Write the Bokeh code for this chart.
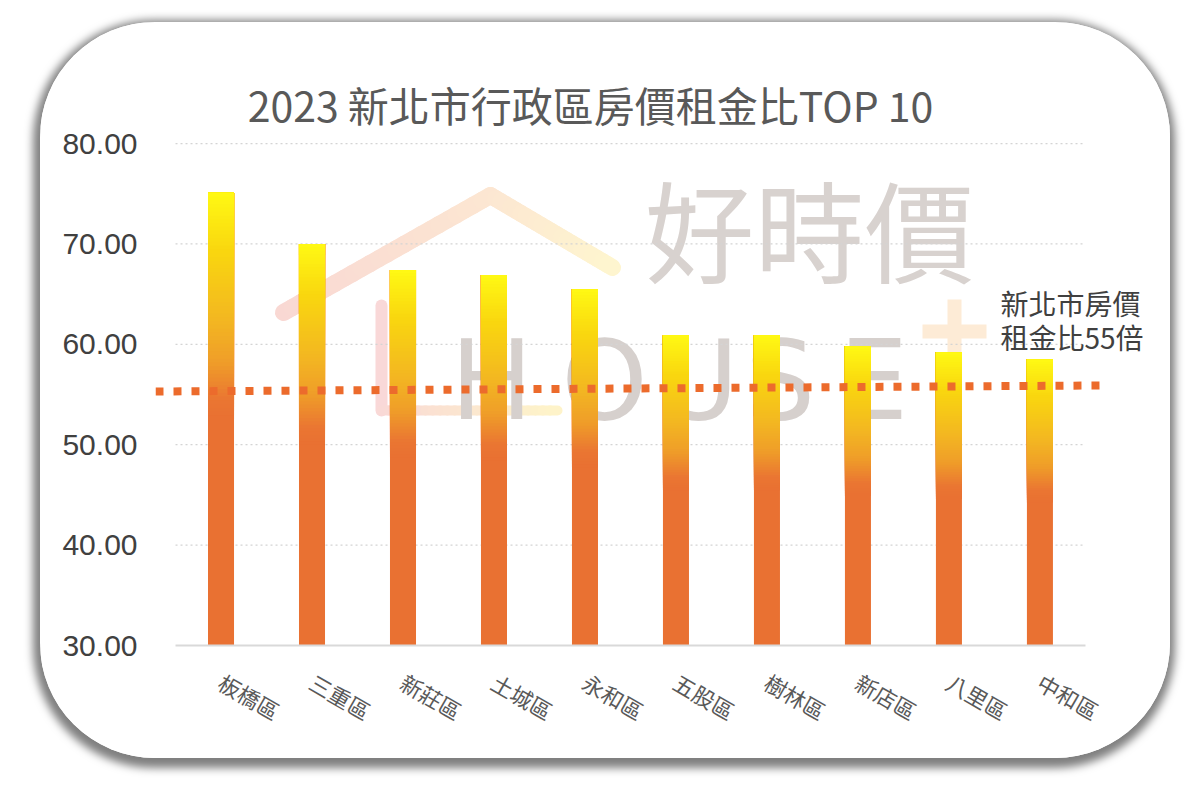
import math
from bokeh.plotting import figure
from bokeh.models import Range1d, FixedTicker, NumeralTickFormatter
from bokeh.core.properties import value
from bokeh.embed import file_html
from bokeh.resources import INLINE

# ---------------- data ----------------
districts = ["板橋區", "三重區", "新莊區", "土城區", "永和區",
             "五股區", "樹林區", "新店區", "八里區", "中和區"]
ratios = [75.1, 70.0, 67.4, 66.9, 65.5, 60.9, 60.9, 59.8, 59.2, 58.5]
y_ticks = [30, 40, 50, 60, 70, 80]
ref_line_y = [55.3, 55.9]          # the reference line (55倍) as drawn, slightly tilted
ref_label = ["新北市房價", "租金比55倍"]
title_text = "2023 新北市行政區房價租金比TOP 10"
wm_cn = "好時價"
wm_en = ["H", "O", "U", "S", "E"]

# ---------------- layout ----------------
W, H = 1130, 736
B_LEFT, B_RIGHT, B_TOP, B_BOTTOM = 115, 5, 30, 113
X0, X1 = -0.72, 10.38
Y0, Y1 = 30, 89.07
FRAME_W = W - B_LEFT - B_RIGHT
FRAME_H = H - B_TOP - B_BOTTOM
PXU = FRAME_W / (X1 - X0)
PYU = FRAME_H / (Y1 - Y0)
PAGE_X0 = 40 + B_LEFT     # page px of frame left
PAGE_Y0 = 22 + B_TOP      # page px of frame top


def dx(px):
    return X0 + (px - PAGE_X0) / PXU


def dy(py):
    return Y1 - (py - PAGE_Y0) / PYU


def lerp_hex(c1, c2, t):
    a = [int(c1[i:i + 2], 16) for i in (1, 3, 5)]
    b = [int(c2[i:i + 2], 16) for i in (1, 3, 5)]
    return "#%02x%02x%02x" % tuple(round(a[k] + (b[k] - a[k]) * t) for k in range(3))


GRAD = [(0.00, "#fffa14"), (0.13, "#f9d70f"), (0.28, "#f3b821"),
        (0.38, "#ef9d29"), (0.46, "#ea7632"), (0.50, "#e97132")]


def grad_color(f):
    for (f1, c1), (f2, c2) in zip(GRAD[:-1], GRAD[1:]):
        if f <= f2:
            return lerp_hex(c1, c2, (f - f1) / (f2 - f1))
    return GRAD[-1][1]


p = figure(width=W, height=H, output_backend="svg", toolbar_location=None,
           x_range=Range1d(X0, X1), y_range=Range1d(Y0, Y1),
           min_border_left=B_LEFT, min_border_right=B_RIGHT,
           min_border_top=B_TOP, min_border_bottom=B_BOTTOM,
           background_fill_color="white", border_fill_color="white",
           outline_line_color=None,
           styles={"margin-left": "40px", "margin-top": "22px",
                   "border-radius": "115px", "overflow": "hidden",
                   "box-shadow": "-1px 4px 9px 6px rgba(0,0,0,0.5)"})
p.xgrid.visible = False
p.ygrid.visible = False

# ---------------- watermark ----------------
roof_pts = [(283, 312), (490, 195), (612, 267)]
roof_cols = ["#f9d8d3", "#fce6d2", "#fef5cf"]
NSEG = 24
for (a, b), (ca, cb) in zip(zip(roof_pts[:-1], roof_pts[1:]), zip(roof_cols[:-1], roof_cols[1:])):
    xs0, ys0, xs1, ys1, cols = [], [], [], [], []
    for k in range(NSEG):
        t0, t1 = k / NSEG, (k + 1) / NSEG
        xs0.append(dx(a[0] + (b[0] - a[0]) * t0)); ys0.append(dy(a[1] + (b[1] - a[1]) * t0))
        xs1.append(dx(a[0] + (b[0] - a[0]) * t1)); ys1.append(dy(a[1] + (b[1] - a[1]) * t1))
        cols.append(lerp_hex(ca, cb, (t0 + t1) / 2))
    p.segment(x0=xs0, y0=ys0, x1=xs1, y1=ys1, line_color=cols, line_width=17, line_cap="round")

p.segment(x0=[dx(381)], y0=[dy(305)], x1=[dx(381)], y1=[dy(410)],
          line_color="#f9d8d8", line_width=12, line_cap="round")
bx0, bx1 = 381, 557
bxs0, bxs1, bcols = [], [], []
for k in range(NSEG):
    t0, t1 = k / NSEG, (k + 1) / NSEG
    bxs0.append(dx(bx0 + (bx1 - bx0) * t0)); bxs1.append(dx(bx0 + (bx1 - bx0) * t1))
    bcols.append(lerp_hex("#f9d8d6", "#fef4c9", (t0 + t1) / 2))
p.segment(x0=bxs0, y0=[dy(410)] * NSEG, x1=bxs1, y1=[dy(410)] * NSEG,
          line_color=bcols, line_width=10, line_cap="round")

p.text(x=[dx(644)], y=[dy(226)], text=[wm_cn], text_align="left", text_baseline="middle",
       text_font=value("Noto Sans CJK TC"), text_font_size="110px", text_color="#d8d2cf")
p.text(x=[dx(c) for c in (491, 604, 698, 780, 873)], y=[dy(380)] * 5, text=wm_en,
       text_align="center", text_baseline="alphabetic",
       text_font=value("DejaVu Sans"), text_font_size="110px", text_color="#d6d0cd")
p.segment(x0=[dx(922), dx(954)], y0=[dy(331), dy(299)], x1=[dx(986), dx(954)], y1=[dy(331), dy(363)],
          line_color="#fdebd6", line_width=14)

# ---------------- grid ----------------
xs = list(range(len(districts)))
grid_levels = y_ticks[1:]
p.segment(x0=[xs[0] - 0.5] * len(grid_levels), y0=grid_levels,
          x1=[xs[-1] + 0.5] * len(grid_levels), y1=grid_levels,
          line_color="#d4d4d4", line_width=1.2, line_dash="2 3")

# ---------------- gradient bars ----------------
BW = 0.286
base = y_ticks[0]
p.quad(left=[x - BW / 2 for x in xs], right=[x + BW / 2 for x in xs],
       bottom=[base] * len(xs), top=ratios, fill_color=GRAD[-1][1], line_color=None)
NG = 60
L, R, Bt, T, C = [], [], [], [], []
for x, v in zip(xs, ratios):
    h = v - base
    for k in range(NG):
        f = 0.5 - 0.5 * k / NG
        L.append(x - BW / 2); R.append(x + BW / 2)
        Bt.append(v - f * h); T.append(v)
        C.append(grad_color(f))
p.quad(left=L, right=R, bottom=Bt, top=T, fill_color=C, line_color=None)

# ---------------- reference line ----------------
p.line(x=[X0, xs[-1] + 0.665], y=ref_line_y, line_color="#ec6b2c",
       line_width=8, line_dash="8 10")

# ---------------- texts ----------------
p.text(x=[dx(590)], y=[dy(103)], text=[title_text], text_align="center", text_baseline="middle",
       text_font=value("Noto Sans CJK TC"), text_font_size="41px", text_color="#595959")
p.text(x=[dx(1000)] * 2, y=[dy(302), dy(336)], text=ref_label, text_align="left",
       text_baseline="middle", text_font=value("Noto Sans CJK TC"), text_font_size="28px",
       text_color="#404040")

# ---------------- axes ----------------
p.yaxis.ticker = FixedTicker(ticks=y_ticks)
p.yaxis.formatter = NumeralTickFormatter(format="0.00")
p.yaxis.axis_line_color = None
p.yaxis.major_tick_line_color = None
p.yaxis.minor_tick_line_color = None
p.yaxis.major_label_standoff = 12
p.yaxis.major_label_text_font = "Liberation Sans"
p.yaxis.major_label_text_font_size = "30px"
p.yaxis.major_label_text_color = "#404040"

p.xaxis.ticker = FixedTicker(ticks=xs)
p.xaxis.major_label_overrides = {x: d for x, d in zip(xs, districts)}
p.xaxis.bounds = (xs[0] - 0.5, xs[-1] + 0.5)
p.xaxis.axis_line_color = "#d9d9d9"
p.xaxis.axis_line_width = 2
p.xaxis.major_tick_line_color = None
p.xaxis.minor_tick_line_color = None
p.xaxis.major_label_orientation = -math.pi / 6
p.xaxis.major_label_standoff = 28
p.xaxis.major_label_text_font = "Noto Sans CJK TC"
p.xaxis.major_label_text_font_size = "22px"
p.xaxis.major_label_text_color = "#595959"

open("out.html", "w").write(file_html(p, INLINE))
